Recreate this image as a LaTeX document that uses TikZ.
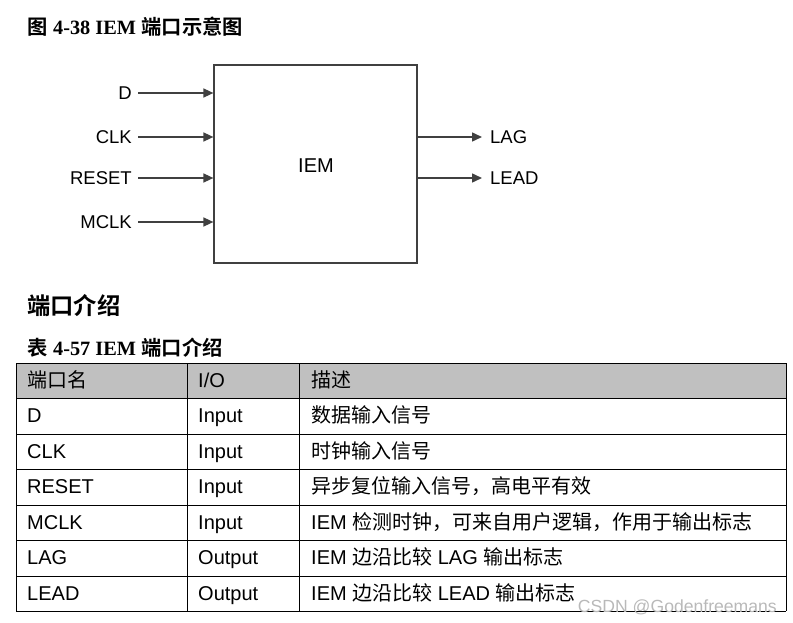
\documentclass[tikz,border=0pt]{standalone}
\usepackage{fontspec}
\setmainfont{Liberation Sans}
\newfontfamily\cjk{Noto Sans CJK SC}
\newfontfamily\cjkbold{Noto Sans CJK SC Bold}
\newfontfamily\capserif{Liberation Serif}
\usepackage{tikz}
\usetikzlibrary{arrows.meta}
\definecolor{wiregray}{HTML}{404040}
\definecolor{headgray}{HTML}{C0C0C0}
\tikzset{
  font={\fontsize{18.5pt}{20pt}\selectfont},
  portlbl/.style={inner sep=0pt},
  sig/.style={draw=wiregray, line width=1.5pt, -{Triangle[length=10pt,width=9pt]}},
  cell/.style={anchor=base west, inner sep=0pt, font={\fontsize{20pt}{22pt}\selectfont}},
  captxt/.style={anchor=west, inner sep=0pt, font={\fontsize{20.3pt}{22pt}\selectfont}}}
\begin{document}
\begin{tikzpicture}[x=1pt,y=-1pt]
\useasboundingbox (0,0) rectangle (793,623);
% captions
\node [captxt] (cap1) at (27,27) {{\cjkbold 图} {\capserif\bfseries 4-38 IEM} {\cjkbold 端口示意图}};
\node [captxt, font={\fontsize{23.3pt}{25pt}\selectfont}] (cap2) at (27,306) {\cjkbold 端口介绍};
\node [captxt] (cap3) at (27,348) {{\cjkbold 表} {\capserif\bfseries 4-57 IEM} {\cjkbold 端口介绍}};
% block
\node [draw=wiregray, line width=1.2pt, minimum width=203pt, minimum height=198pt] (iem) at (315.5,164) {};
\node [font={\fontsize{20pt}{22pt}\selectfont}] (iemtxt) at (316,166) {IEM};
\node [portlbl, anchor=east] (D) at (132,93) {D};
\node [portlbl, anchor=east] (CLK) at (132,137) {CLK};
\node [portlbl, anchor=east] (RESET) at (132,178) {RESET};
\node [portlbl, anchor=east] (MCLK) at (132,222) {MCLK};
\node [portlbl, anchor=west] (LAG) at (490,137) {LAG};
\node [portlbl, anchor=west] (LEAD) at (490,178) {LEAD};
\foreach \p in {D,CLK,RESET,MCLK}
  \draw [sig, shorten <=6pt] (\p.east) -- (\p -| iem.west);
\foreach \p in {LAG,LEAD}
  \draw [sig, shorten >=8pt] (iem.east |- \p) -- (\p.west);
% table
\fill [headgray] (16,363) rectangle (786,398);
\foreach \y in {363,398,434,469,505,540,576,611}
  \draw [line width=1pt] (16,\y) -- (786,\y);
\foreach \x in {16,187,299,786}
  \draw [line width=1pt] (\x,363) -- (\x,611);
\node [cell] (h1) at (27,387.5) {\cjk 端口名};
\node [cell] (h2) at (198,387.5) {I/O};
\node [cell] (h3) at (311,387.5) {\cjk 描述};
\foreach \nm/\io/\desc [count=\i] in {
    D/Input/{\cjk 数据输入信号},
    CLK/Input/{\cjk 时钟输入信号},
    RESET/Input/{\cjk 异步复位输入信号，高电平有效},
    MCLK/Input/{IEM {\cjk 检测时钟，可来自用户逻辑，作用于输出标志}},
    LAG/Output/{IEM {\cjk 边沿比较} LAG {\cjk 输出标志}},
    LEAD/Output/{IEM {\cjk 边沿比较} LEAD {\cjk 输出标志}}} {
  \node [cell] (n\i) at (27,{405+(\i-0.5)*35.5}) {\nm};
  \node [cell] (io\i) at (198,{405+(\i-0.5)*35.5}) {\io};
  \node [cell] (d\i) at (311,{405+(\i-0.5)*35.5}) {\desc};
}
\node [text=gray!55, font={\fontsize{17.6pt}{19pt}\selectfont}, anchor=east, inner sep=0pt] (wm) at (777,607) {CSDN @Godenfreemans};
\end{tikzpicture}
\end{document}
